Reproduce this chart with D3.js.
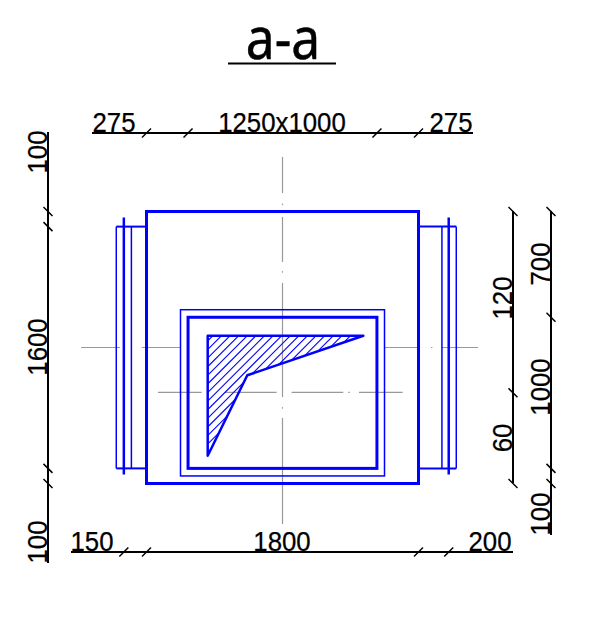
<!DOCTYPE html>
<html>

<head>
  <meta charset="utf-8">
  <script src="https://d3js.org/d3.v7.min.js"></script>
  <style>
    html, body { margin: 0; padding: 0; background: #fff; }
    svg { display: block; }
    text { font-family: "Liberation Sans", sans-serif; font-size: 27px; fill: #000; stroke: #000; stroke-width: 0.25; }
    .title { font-family: "Noto Sans", sans-serif; font-size: 58px; stroke-width: 0.5; }
    .dim { stroke: #000; stroke-width: 2; }
    .tick { stroke: #000; stroke-width: 1.5; }
    .center { stroke: #999; stroke-width: 1.2; }
    .blue { fill: none; stroke: #0000ff; }
  </style>
</head>

<body>
  <svg id="drawing" width="604" height="638"></svg>

  <script>
    // values in mm, measured from the top left corner of the box
    const boxSize = [1800, 1800];
    const flangeLeft = [-200, -150, -100];
    const flangeRight = [1955, 2000, 2050];
    const flangeSpan = [100, 1700];
    const flangeTall = [40, 1740];
    const inner = [275, 700, 1525, 1700];
    const innerOuter = [225, 650, 1575, 1750];
    const section = [[405, 822], [1435, 822], [667, 1084], [405, 1616]];

    const topDims = [275, 1250, 275];
    const topLabels = ["275", "1250x1000", "275"];
    const bottomDims = [150, 1800, 200];
    const bottomLabels = ["150", "1800", "200"];
    const leftDims = [100, 1600, 100];
    const leftLabels = ["100", "1600", "100"];
    const rightDimsA = [1200, 600];
    const rightLabelsA = ["120", "60"];
    const rightDimsB = [700, 1000, 100];
    const rightLabelsB = ["700", "1000", "100"];

    // centre lines, [from, to] along the line
    const centerV = [[-361, -122], [-52, -42], [36, 334], [395, 405], [473, 1228], [1295, 1305], [1366, 2068]];
    const centerH1 = [[-433, -175], [-32, 222], [1578, 1809], [1883, 1892], [1953, 2194]];
    const centerH2 = [[76, 365], [519, 861], [960, 1302], [1335, 1345], [1406, 1695]];

    const svg = d3.select("svg#drawing");

    const x = d3.scaleLinear().domain([0, boxSize[0]]).range([146.5, 418.5]);
    const y = d3.scaleLinear().domain([0, boxSize[1]]).range([211.5, 483.5]);

    const pointsOf = pts => pts.map(p => x(p[0]) + "," + y(p[1])).join(" ");

    // centre lines
    const centers = svg.append("g");
    centers.selectAll(".v").data(centerV).join("line").attr("class", "center v")
      .attr("x1", x(900)).attr("x2", x(900))
      .attr("y1", d => y(d[0])).attr("y2", d => y(d[1]));
    centers.selectAll(".h1").data(centerH1).join("line").attr("class", "center h1")
      .attr("y1", y(900)).attr("y2", y(900))
      .attr("x1", d => x(d[0])).attr("x2", d => x(d[1]));
    centers.selectAll(".h2").data(centerH2).join("line").attr("class", "center h2")
      .attr("y1", y(1197)).attr("y2", y(1197))
      .attr("x1", d => x(d[0])).attr("x2", d => x(d[1]));

    // hatching of the section
    svg.append("clipPath").attr("id", "sectionClip")
      .append("polygon").attr("points", pointsOf(section));
    const hatchStep = 8.6;
    svg.append("g").attr("clip-path", "url(#sectionClip)")
      .selectAll("line").data(d3.range(540, 705, hatchStep)).join("line")
      .attr("stroke", "#0000ff").attr("stroke-width", 1.1)
      .attr("x1", d => d - 500).attr("y1", 500)
      .attr("x2", d => d - 300).attr("y2", 300);

    // blue outlines
    const blue = svg.append("g").attr("class", "blue");

    function rect(box, w) {
      blue.append("rect")
        .attr("x", x(box[0])).attr("y", y(box[1]))
        .attr("width", x(box[2]) - x(box[0])).attr("height", y(box[3]) - y(box[1]))
        .attr("stroke-width", w);
    }

    function vline(mm, span, w) {
      blue.append("line").attr("x1", x(mm)).attr("x2", x(mm))
        .attr("y1", y(span[0])).attr("y2", y(span[1])).attr("stroke-width", w);
    }

    function hline(mmY, from, to, w) {
      blue.append("line").attr("y1", y(mmY)).attr("y2", y(mmY))
        .attr("x1", x(from)).attr("x2", x(to)).attr("stroke-width", w);
    }

    flangeSpan.forEach(v => {
      hline(v, flangeLeft[0], 0, 2);
      hline(v, boxSize[0], flangeRight[2], 2);
    });
    [flangeLeft, flangeRight].forEach(f => {
      vline(f[0], flangeSpan, 1.5);
      vline(f[1], flangeTall, 2.5);
      vline(f[2], flangeSpan, 1.5);
    });

    rect([0, 0, boxSize[0], boxSize[1]], 3);
    rect(innerOuter, 1.5);
    rect(inner, 3);
    blue.append("polygon").attr("points", pointsOf(section))
      .attr("stroke-width", 2.5).attr("stroke-linejoin", "round");

    // dimension chains
    function cutsOf(values, start) {
      return [start].concat(Array.from(d3.cumsum(values), v => v + start));
    }

    // the drawing's lettering is a bit narrower than Liberation Sans
    function narrow(sel) {
      sel.attr("lengthAdjust", "spacingAndGlyphs")
        .attr("textLength", function () { return this.getComputedTextLength() * 0.955; });
    }

    function chainH(values, labels, start, lineY, from, to, labelX) {
      const g = svg.append("g");
      g.append("line").attr("class", "dim").attr("x1", from).attr("x2", to).attr("y1", lineY).attr("y2", lineY);
      g.selectAll(".tick").data(cutsOf(values, start)).join("line").attr("class", "tick")
        .attr("x1", d => x(d) - 4.5).attr("x2", d => x(d) + 4.5)
        .attr("y1", lineY + 4.5).attr("y2", lineY - 4.5);
      g.selectAll("text").data(labels).join("text")
        .attr("text-anchor", "middle")
        .attr("x", (d, i) => labelX[i])
        .attr("y", lineY - 1)
        .text(d => d)
        .call(narrow);
    }

    function chainV(values, labels, start, lineX, from, to, labelY) {
      const g = svg.append("g");
      g.append("line").attr("class", "dim").attr("y1", from).attr("y2", to).attr("x1", lineX).attr("x2", lineX);
      g.selectAll(".tick").data(cutsOf(values, start)).join("line").attr("class", "tick")
        .attr("x1", lineX - 4.5).attr("x2", lineX + 4.5)
        .attr("y1", d => y(d) - 4.5).attr("y2", d => y(d) + 4.5);
      g.selectAll("text").data(labels).join("text")
        .attr("text-anchor", "middle")
        .attr("transform", (d, i) => "translate(" + (lineX - 1) + "," + labelY[i] + ") rotate(-90)")
        .text(d => d)
        .call(narrow);
    }

    chainH(topDims, topLabels, 0, 133, 92, 473, [114, 282, 451]);
    chainH(bottomDims, bottomLabels, -150, 552, 71, 513, [92, 282, 490]);
    chainV(leftDims, leftLabels, 0, 48, 132, 563, [152, 347, 542]);
    chainV(rightDimsA, rightLabelsA, 0, 513, 211, 483, [298, 438]);
    chainV(rightDimsB, rightLabelsB, 0, 551, 211, 535, [264, 387, 514]);

    // title
    svg.append("text").attr("class", "title")
      .attr("transform", "translate(283,59) scale(0.89,1)").attr("text-anchor", "middle")
      .text("a-a");
    svg.append("line").attr("class", "dim")
      .attr("x1", 228).attr("x2", 336).attr("y1", 63.5).attr("y2", 63.5);
  </script>
</body>

</html>
